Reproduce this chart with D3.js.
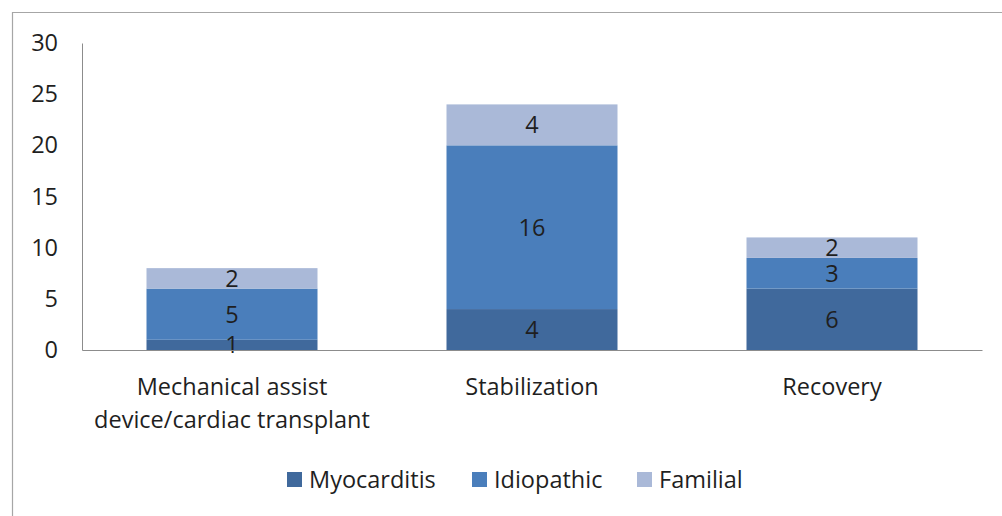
<!DOCTYPE html>
<html>
<head>
<meta charset="utf-8">
<script src="https://cdn.jsdelivr.net/npm/d3@7"></script>
<style>
  body { margin: 0; background: #fff; }
  text { font-family: "Open Sans", "DejaVu Sans", sans-serif; fill: #1f1f1f; }
</style>
</head>
<body>
<svg width="1002" height="516"></svg>
<script>
var svg = d3.select("svg");
var width = +svg.attr("width");
var height = +svg.attr("height");

const categories = ["Mechanical assist device/cardiac transplant", "Stabilization", "Recovery"];
const categoryLines = [["Mechanical assist", "device/cardiac transplant"], ["Stabilization"], ["Recovery"]];
const seriesNames = ["Myocarditis", "Idiopathic", "Familial"];
const myocarditis = [1, 4, 6];
const idiopathic = [5, 16, 3];
const familial = [2, 4, 2];
const yTicks = [0, 5, 10, 15, 20, 25, 30];
const colors = ["#40699c", "#4a7ebb", "#aab9d8"];

var margin = { top: 43, right: 20, bottom: 166, left: 82 };
var innerWidth = 982 - margin.left;
var innerHeight = 350 - margin.top;
var fontSize = "23.5px";

// outer frame
svg.append("path")
  .attr("d", `M12.5,${height} V12.5 H${width}`)
  .attr("fill", "none").attr("stroke", "#a6a6a6").attr("stroke-width", 1.2);

const data = categories.map((c, i) => ({
  category: c,
  Myocarditis: myocarditis[i],
  Idiopathic: idiopathic[i],
  Familial: familial[i]
}));

const stacked = d3.stack().keys(seriesNames)(data);

const xScale = d3.scaleBand()
  .domain(categories)
  .range([0, innerWidth])
  .paddingInner(0.43)
  .paddingOuter(0.215);

const yScale = d3.scaleLinear()
  .domain([0, 30])
  .range([innerHeight, 0]);

const g = svg.append("g")
  .attr("transform", `translate(${margin.left}, ${margin.top})`);

// y axis
const yAxis = g.append("g").call(d3.axisLeft(yScale).tickValues(yTicks).tickSize(0).tickPadding(24));
yAxis.select(".domain").attr("stroke", "#8c8c8c");
yAxis.selectAll("text").style("font-size", fontSize).attr("fill", "#1f1f1f");

// bars
g.selectAll(".series")
  .data(stacked)
  .enter()
  .append("g")
  .attr("class", "series")
  .attr("fill", (d, i) => colors[i])
  .selectAll("rect")
  .data((d) => d.map((v, i) => ({ v: v, cat: categories[i] })))
  .enter()
  .append("rect")
  .attr("x", (d) => xScale(d.cat))
  .attr("y", (d) => yScale(d.v[1]))
  .attr("width", xScale.bandwidth())
  .attr("height", (d) => yScale(d.v[0]) - yScale(d.v[1]));

// data labels
stacked.forEach((s) => {
  s.forEach((v, i) => {
    g.append("text")
      .attr("x", xScale(categories[i]) + xScale.bandwidth() / 2)
      .attr("y", yScale((v[0] + v[1]) / 2))
      .attr("dy", "0.36em")
      .attr("text-anchor", "middle")
      .style("font-size", fontSize)
      .text(v[1] - v[0]);
  });
});

// x axis
const xAxis = g.append("g")
  .attr("transform", `translate(0, ${innerHeight})`)
  .call(d3.axisBottom(xScale).tickSize(0).tickFormat(""));
xAxis.select(".domain").attr("stroke", "#8c8c8c");

categories.forEach((c, i) => {
  const t = g.append("text")
    .attr("x", xScale(c) + xScale.bandwidth() / 2)
    .attr("y", innerHeight + 45)
    .attr("text-anchor", "middle")
    .style("font-size", fontSize);
  categoryLines[i].forEach((line, j) => {
    t.append("tspan")
      .attr("x", xScale(c) + xScale.bandwidth() / 2)
      .attr("dy", j === 0 ? 0 : 33)
      .text(line);
  });
});

// legend
const legendX = [287, 472, 637];
seriesNames.forEach((name, i) => {
  svg.append("rect")
    .attr("x", legendX[i]).attr("y", 472)
    .attr("width", 15).attr("height", 15)
    .attr("fill", colors[i]);
  svg.append("text")
    .attr("x", legendX[i] + 22).attr("y", 480)
    .attr("dy", "0.36em")
    .style("font-size", fontSize)
    .text(name);
});
</script>
</body>
</html>
